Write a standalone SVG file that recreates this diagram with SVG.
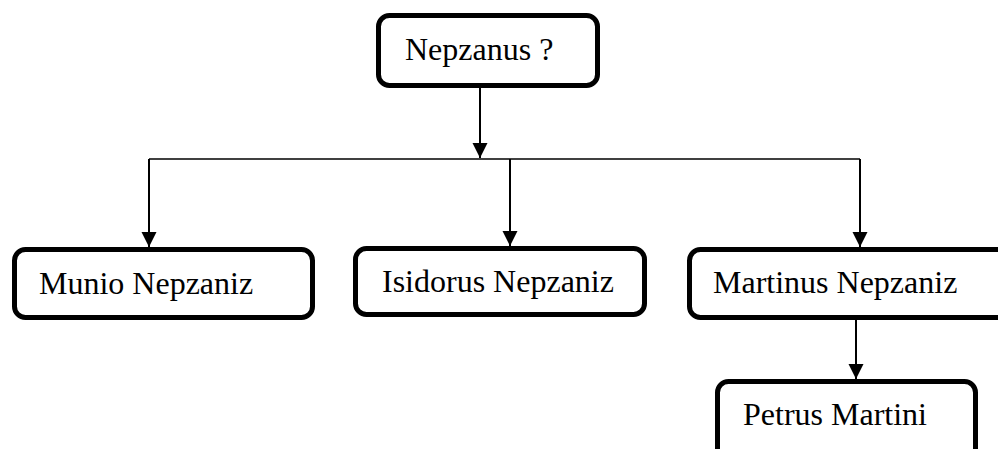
<svg xmlns="http://www.w3.org/2000/svg" width="998" height="449" viewBox="0 0 998 449">
  <style>
    .box { fill: #ffffff; stroke: #000000; stroke-width: 5; }
    .lbl { font-family: "Liberation Serif", "Times New Roman", serif; font-size: 32px; fill: #000000; }
    .conn { stroke: #000000; stroke-width: 2; fill: none; }
    .bar { stroke: #000000; stroke-width: 1.5; fill: none; }
  </style>
  <defs>
    <marker id="arrow" markerUnits="userSpaceOnUse" markerWidth="16" markerHeight="16" viewBox="0 0 16 16" refX="15" refY="8" orient="auto">
      <path d="M0,0.5 L15,8 L0,15.5 Z" fill="#000000"/>
    </marker>
  </defs>
  <rect width="998" height="449" fill="#ffffff"/>
  <g id="connectors">
    <line class="conn" x1="480" y1="88" x2="480" y2="158" marker-end="url(#arrow)"/>
    <line class="bar" x1="149" y1="159" x2="860" y2="159"/>
    <line class="conn" x1="149" y1="159" x2="149" y2="247" marker-end="url(#arrow)"/>
    <line class="conn" x1="510" y1="159" x2="510" y2="246" marker-end="url(#arrow)"/>
    <line class="conn" x1="860" y1="159" x2="860" y2="247" marker-end="url(#arrow)"/>
    <line class="conn" x1="856" y1="320" x2="856" y2="379" marker-end="url(#arrow)"/>
  </g>
  <g id="nepzanus">
    <rect class="box" x="378.5" y="15.5" width="219" height="70" rx="11"/>
    <text class="lbl" x="405" y="60">Nepzanus ?</text>
  </g>
  <g id="munio">
    <rect class="box" x="14.5" y="249.5" width="298" height="68" rx="11"/>
    <text class="lbl" x="39" y="294">Munio Nepzaniz</text>
  </g>
  <g id="isidorus">
    <rect class="box" x="355.5" y="248.5" width="289" height="66" rx="11"/>
    <text class="lbl" x="382" y="292">Isidorus Nepzaniz</text>
  </g>
  <g id="martinus">
    <rect class="box" x="689.5" y="249.5" width="320" height="68" rx="11"/>
    <text class="lbl" x="713" y="293">Martinus Nepzaniz</text>
  </g>
  <g id="petrus">
    <rect class="box" x="717.5" y="381.5" width="258" height="80" rx="11"/>
    <text class="lbl" x="743" y="425">Petrus Martini</text>
  </g>
</svg>
